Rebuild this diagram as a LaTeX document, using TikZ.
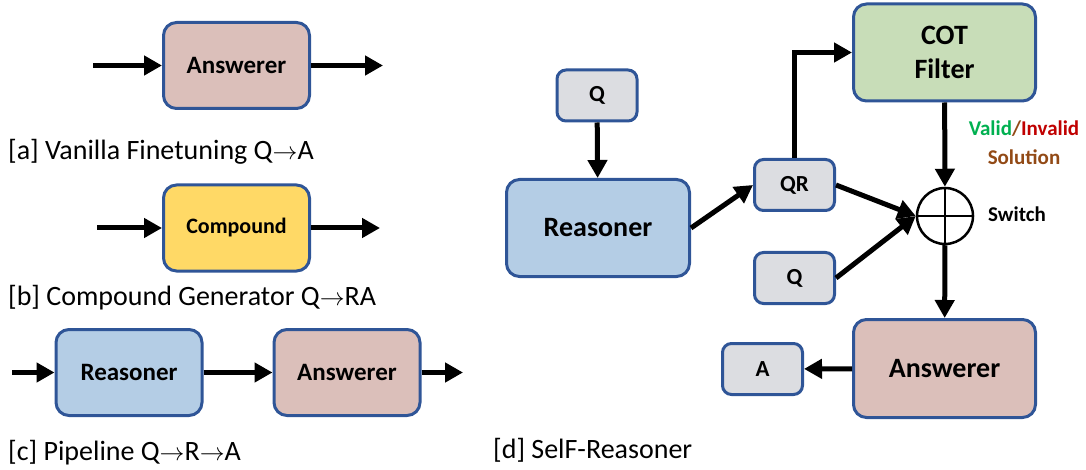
\documentclass[tikz,border=0pt]{standalone}
\usepackage{fontspec}
\setmainfont{Carlito}
\usetikzlibrary{arrows.meta,positioning}
\definecolor{edgeblue}{HTML}{2F5597}
\definecolor{ansfill}{HTML}{DBBFBA}
\definecolor{cmpfill}{HTML}{FFD966}
\definecolor{reafill}{HTML}{B4CDE5}
\definecolor{cotfill}{HTML}{C8DDB8}
\definecolor{tokgray}{HTML}{DCDDE1}
\definecolor{validgreen}{HTML}{00B050}
\definecolor{invalidred}{HTML}{C00000}
\definecolor{solbrown}{HTML}{924A16}

\begin{document}
\begin{tikzpicture}[x=1pt,y=-1pt,
  blk/.style={draw=edgeblue,line width=3pt,rounded corners=13pt,inner sep=0pt,align=center},
  smallblk/.style={blk,minimum width=146pt,minimum height=86pt,font=\fontsize{25}{30}\selectfont\bfseries},
  bigblk/.style={blk,minimum width=182pt,minimum height=97pt,font=\fontsize{28}{34}\selectfont\bfseries},
  tok/.style={blk,fill=tokgray,rounded corners=9pt,minimum width=80pt,minimum height=51pt,font=\fontsize{23}{27}\selectfont\bfseries},
  arr/.style={line width=5pt,-{Triangle[length=18pt,width=19pt]}},
  captxt/.style={anchor=west,inner sep=0pt,font=\fontsize{28}{32}\selectfont}]
 \useasboundingbox (0,0) rectangle (1086,470);
 %[a] vanilla finetuning
   \node[smallblk,fill=ansfill] (ansA) at (236.5,65.5) {Answerer};
   \coordinate (inA) at (93,65.5); \coordinate (outA) at (383,65.5);
   \draw[arr] (inA) -- (ansA); \draw[arr] (ansA) -- (outA);
   \node[captxt] (capA) at (8,152) {[a] Vanilla Finetuning Q$\rightarrow$A};
 %[b] compound generator
   \node[smallblk,fill=cmpfill,font=\fontsize{22}{26}\selectfont\bfseries] (cmpB) at (236.5,228) {Compound};
   \coordinate (inB) at (97,228); \coordinate (outB) at (380,228);
   \draw[arr] (inB) -- (cmpB); \draw[arr] (cmpB) -- (outB);
   \node[captxt] (capB) at (8,298) {[b] Compound Generator Q$\rightarrow$RA};
 %[c] pipeline
   \node[smallblk,fill=reafill] (reaC) at (129,372.5) {Reasoner};
   \node[smallblk,fill=ansfill] (ansC) at (347,372.5) {Answerer};
   \coordinate (inC) at (12,372.5); \coordinate (outC) at (463,372.5);
   \draw[arr] (inC) -- (reaC); \draw[arr] (reaC) -- (ansC); \draw[arr] (ansC) -- (outC);
   \node[captxt] (capC) at (8,453) {[c] Pipeline Q$\rightarrow$R$\rightarrow$A};
 %[d] self-reasoner
  %blocks
   \node[tok] (qtop) at (597,95.5) {Q};
   \node[bigblk,fill=reafill,minimum width=183pt] (reaD) at (598,228) {Reasoner};
   \node[tok] (qr) at (794.5,185) {QR};
   \node[tok] (qlow) at (794.5,278) {Q};
   \node[bigblk,fill=cotfill] (cot) at (944.5,52.5) {COT\\Filter};
   \node[circle,draw,line width=2.5pt,minimum size=56pt,inner sep=0pt] (sw) at (945,216) {};
   \draw[line width=2.5pt] (sw.north) -- (sw.south) (sw.west) -- (sw.east);
   \node[bigblk,fill=ansfill,minimum height=98pt] (ansD) at (944.5,368.5) {Answerer};
   \node[tok] (aout) at (762.5,369) {A};
  %labels
   \node[font=\fontsize{21}{25}\selectfont\bfseries,inner sep=0pt] (vld) at (1024,129) {\textcolor{validgreen}{Valid}\textcolor{solbrown}{/}\textcolor{invalidred}{Invalid}};
   \node[font=\fontsize{21}{25}\selectfont\bfseries,text=solbrown,inner sep=0pt] (sol) at (1024,157) {Solution};
   \node[font=\fontsize{21}{25}\selectfont\bfseries,anchor=west,inner sep=0pt] (swl) at (988,214) {Switch};
  %arrows
   \draw[arr] (qtop) -- (reaD);
   \draw[arr] (reaD.east) -- (qr.west);
   \draw[arr] (qr.north) |- (cot.west);
   \draw[arr] (cot) -- (sw);
   \draw[arr] (qr.east) -- (sw.west);
   \draw[arr] (qlow.east) -- (sw.west);
   \draw[arr] (sw) -- (ansD);
   \draw[arr] (ansD) -- (aout);
   \node[captxt] (capD) at (493,450) {[d] SelF-Reasoner};
\end{tikzpicture}
\end{document}
